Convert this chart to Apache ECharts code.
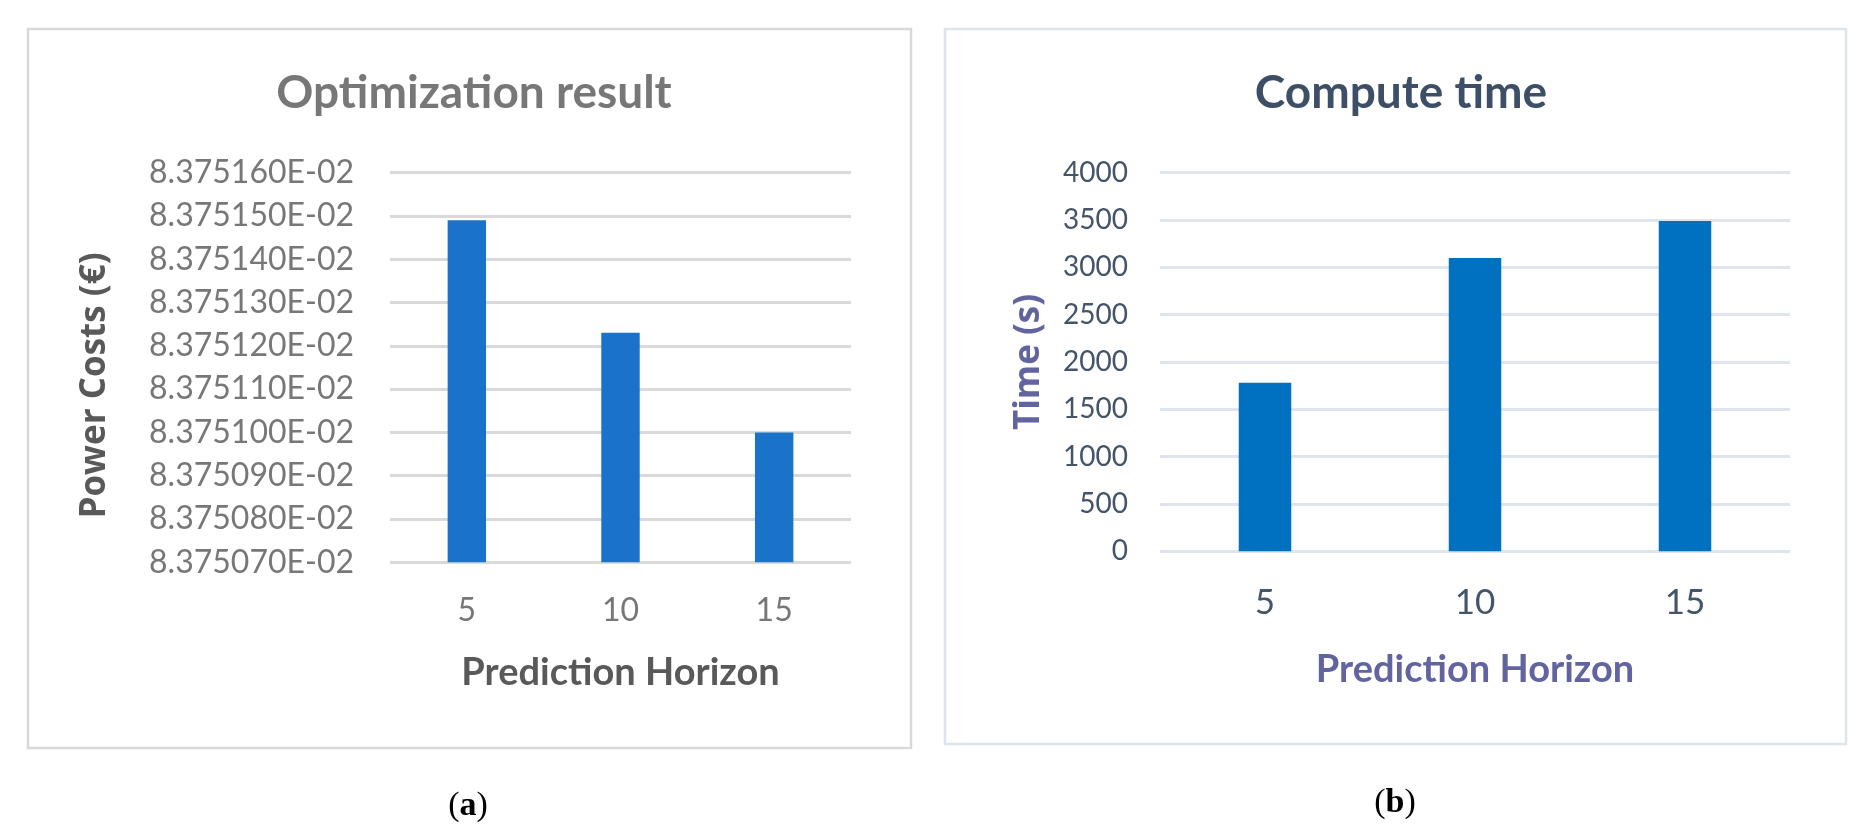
<!DOCTYPE html>
<html>
<head>
<meta charset="utf-8">
<script src="https://cdn.jsdelivr.net/npm/echarts@6/dist/echarts.min.js"></script>
<style>
html,body{margin:0;padding:0;background:#fff;}
#chart{width:1864px;height:840px;}
</style>
</head>
<body>
<div id="chart"></div>
<script>
// ---- data ----
const categories = ['5', '10', '15'];
const costValues = [0.08375149, 0.08375123, 0.08375100];
const timeValues = [1780, 3100, 3490];
const costAxisMin = 0.0837507;
const costAxisMax = 0.0837516;
const costAxisStep = 0.0000001;
const timeAxisMin = 0;
const timeAxisMax = 4000;
const timeAxisStep = 500;

function fmtCost(v) {
  return (v * 100).toFixed(6) + 'E-02';
}
function fmtTime(v) {
  return String(Math.round(v));
}

const chart = echarts.init(document.getElementById('chart'));
chart.setOption({
  backgroundColor: '#ffffff',
  animation: false,
  title: [
    {
      text: 'Optimization result',
      left: 469, top: 65, textAlign: 'center',
      textStyle: { fontFamily: 'Lato', fontWeight: 'bold', fontSize: 46, color: '#777777' }
    },
    {
      text: 'Compute time',
      left: 1396, top: 65, textAlign: 'center',
      textStyle: { fontFamily: 'Lato', fontWeight: 'bold', fontSize: 46, color: '#3d4f66' }
    }
  ],
  grid: [
    { left: 390, right: 1013, top: 172.7, bottom: 277.7, containLabel: false },
    { left: 1160, right: 74, top: 172.7, bottom: 288.7, containLabel: false }
  ],
  xAxis: [
    {
      type: 'category', gridIndex: 0, data: categories,
      axisLine: { show: false }, axisTick: { show: false },
      axisLabel: { fontFamily: 'Lato', fontSize: 32, color: '#777777', margin: 32 },
      name: 'Prediction Horizon', nameLocation: 'middle', nameGap: 91,
      nameTextStyle: { fontFamily: 'Lato', fontWeight: 'bold', fontSize: 38, color: '#595959' }
    },
    {
      type: 'category', gridIndex: 1, data: categories,
      axisLine: { show: false }, axisTick: { show: false },
      axisLabel: { fontFamily: 'Lato', fontSize: 35, color: '#44546a', margin: 34 },
      name: 'Prediction Horizon', nameLocation: 'middle', nameGap: 99,
      nameTextStyle: { fontFamily: 'Lato', fontWeight: 'bold', fontSize: 38, color: '#6264a0' }
    }
  ],
  yAxis: [
    {
      type: 'value', gridIndex: 0,
      min: costAxisMin, max: costAxisMax, interval: costAxisStep,
      axisLine: { show: false }, axisTick: { show: false },
      splitLine: { lineStyle: { color: '#d9d9d9', width: 3 } },
      axisLabel: { fontFamily: 'Lato', fontSize: 32, color: '#777777', margin: 36, formatter: fmtCost },
      name: 'Power Costs (€)', nameLocation: 'middle', nameGap: 277, nameRotate: 90,
      nameTextStyle: { fontFamily: 'Open Sans', fontWeight: 'bold', fontSize: 35, color: '#595959', padding: [0, 36, 0, 0] }
    },
    {
      type: 'value', gridIndex: 1,
      min: timeAxisMin, max: timeAxisMax, interval: timeAxisStep,
      axisLine: { show: false }, axisTick: { show: false },
      splitLine: { lineStyle: { color: '#dfe5ec', width: 3 } },
      axisLabel: { fontFamily: 'Lato', fontSize: 28, color: '#44546a', margin: 32, formatter: fmtTime },
      name: 'Time (s)', nameLocation: 'middle', nameGap: 113, nameRotate: 90,
      nameTextStyle: { fontFamily: 'Open Sans', fontWeight: 'bold', fontSize: 35, color: '#6264a0' }
    }
  ],
  series: [
    {
      type: 'bar', xAxisIndex: 0, yAxisIndex: 0, data: costValues,
      barWidth: '25%', clip: true,
      itemStyle: { color: '#1a73c9' }
    },
    {
      type: 'bar', xAxisIndex: 1, yAxisIndex: 1, data: timeValues,
      barWidth: '25%',
      itemStyle: { color: '#0070c0' }
    }
  ],
  graphic: [
    {
      type: 'rect', z: -1, silent: true,
      shape: { x: 28, y: 29, width: 883, height: 719 },
      style: { fill: 'none', stroke: '#d9d9d9', lineWidth: 2.5 }
    },
    {
      type: 'rect', z: -1, silent: true,
      shape: { x: 945, y: 29, width: 901, height: 715 },
      style: { fill: 'none', stroke: '#dde4ec', lineWidth: 2.5 }
    },
    {
      type: 'text', x: 468, y: 806,
      style: {
        text: '{p|(}{b|a}{p|)}', align: 'center', verticalAlign: 'middle',
        rich: {
          p: { fontFamily: 'Liberation Serif', fontSize: 34, fill: '#000' },
          b: { fontFamily: 'Liberation Serif', fontSize: 34, fontWeight: 'bold', fill: '#000' }
        }
      }
    },
    {
      type: 'text', x: 1395, y: 803,
      style: {
        text: '{p|(}{b|b}{p|)}', align: 'center', verticalAlign: 'middle',
        rich: {
          p: { fontFamily: 'Liberation Serif', fontSize: 34, fill: '#000' },
          b: { fontFamily: 'Liberation Serif', fontSize: 34, fontWeight: 'bold', fill: '#000' }
        }
      }
    }
  ]
});
</script>
</body>
</html>
